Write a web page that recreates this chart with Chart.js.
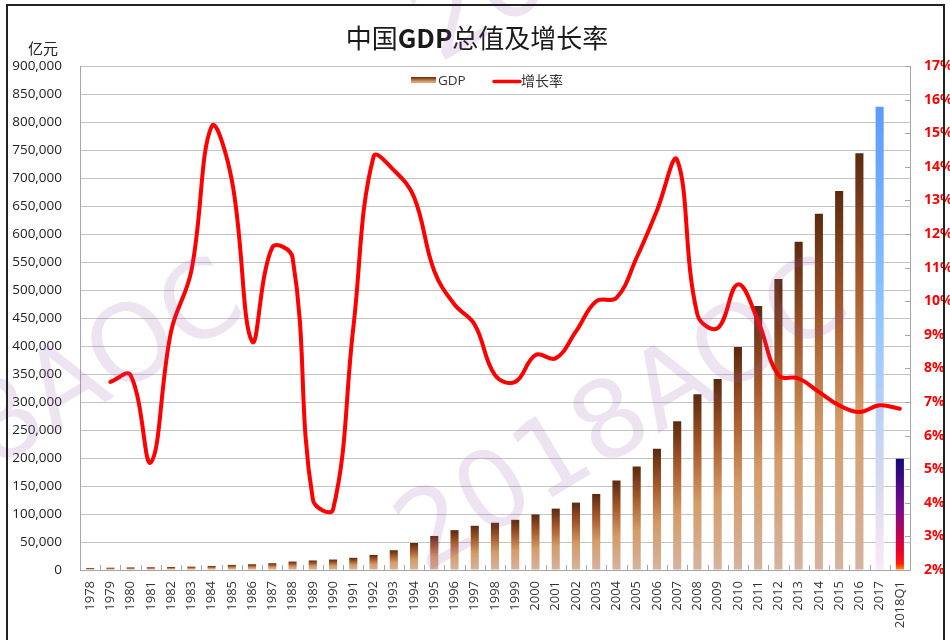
<!DOCTYPE html>
<html><head><meta charset="utf-8">
<script src="https://cdn.jsdelivr.net/npm/chart.js@4.4.1/dist/chart.umd.min.js"></script>
<style>html,body{margin:0;padding:0;background:#fff;overflow:hidden}#wrap{position:absolute;left:0;top:0;width:950px;height:640px}</style>
</head><body><div id="wrap"><canvas id="c" width="950" height="640"></canvas></div>
<script>
const categories = ['1978','1979','1980','1981','1982','1983','1984','1985','1986','1987','1988','1989','1990','1991','1992','1993','1994','1995','1996','1997','1998','1999','2000','2001','2002','2003','2004','2005','2006','2007','2008','2009','2010','2011','2012','2013','2014','2015','2016','2017','2018Q1'];
const gdpValues = [3645,4063,4546,4892,5323,5963,7208,9016,10275,12059,15043,16992,18668,21781,26923,35334,48198,60794,71177,78973,84402,89677,99215,109655,120333,135823,159878,184937,216314,265810,314045,340903,398000,471600,519500,586000,636000,676700,744127,827122,198783];
const growthRates = [null,7.6,7.8,5.2,9.1,10.9,15.2,13.6,8.8,11.6,11.3,4.1,3.8,9.2,14.3,13.9,13.1,10.9,9.9,9.3,7.8,7.6,8.4,8.3,9.1,10.0,10.1,11.3,12.7,14.2,9.6,9.2,10.5,9.4,7.8,7.7,7.3,6.9,6.7,6.9,6.8];
const gdpTicks = {min:0, max:900000, step:50000};
const rateTicks = {min:2, max:17, step:1};
const titleParts = [['中国',false],['GDP',true],['总值及增长率',false]];
const unitLabel = '亿元';
const seriesNames = ['GDP','增长率'];
const watermarkText = '2018AOC';

const BROWN = [[0,'#5a2a10'],[0.3,'#a5582b'],[0.62,'#d49c68'],[1,'#d5b3a0']];
const BLUE = [[0,'#5b9bff'],[0.45,'#8ec6ff'],[0.8,'#d6d9f0'],[1,'#fbe9f6']];
const PURPLE = [[0,'#160a78'],[0.45,'#780a8e'],[0.82,'#e8002e'],[0.94,'#ff1a10'],[1,'#ff9000']];
function gradStops(label){ return label==='2017'?BLUE:(label==='2018Q1'?PURPLE:BROWN); }
function barFill(c){
  const chart=c.chart, area=chart.chartArea;
  if(!area || c.type!=='data' || !chart.scales.y) return '#b06a3a';
  const y=chart.scales.y;
  const top=y.getPixelForValue(c.raw), bot=y.getPixelForValue(0);
  const g=chart.ctx.createLinearGradient(0,top,0,bot);
  gradStops(categories[c.dataIndex]).forEach(s=>g.addColorStop(s[0],s[1]));
  return g;
}
const CJK='"Noto Sans CJK SC"';
const decor = {
  id:'decor',
  beforeDraw(chart){const ctx=chart.ctx;ctx.save();ctx.fillStyle='#fff';ctx.fillRect(0,0,chart.width,chart.height);ctx.restore();},
  afterDraw(chart){
    const ctx=chart.ctx, a=chart.chartArea;
    ctx.save();
    ctx.strokeStyle='#a6a6a6';ctx.lineWidth=1;
    const n=categories.length, w=(a.right-a.left)/n;
    for(let i=0;i<=n;i++){const x=Math.round(a.left+i*w)+0.5;ctx.beginPath();ctx.moveTo(x,a.bottom);ctx.lineTo(x,a.bottom-5);ctx.stroke();}
    const y1=chart.scales.y1;
    for(let v=rateTicks.min;v<=rateTicks.max;v+=rateTicks.step){const y=Math.round(y1.getPixelForValue(v))+0.5;ctx.beginPath();ctx.moveTo(a.right-5,y);ctx.lineTo(a.right,y);ctx.stroke();}
    ctx.fillStyle='#1a1a1a';ctx.textBaseline='middle';
    let total=0;
    titleParts.forEach(p=>{ctx.font=(p[1]?'bold ':'')+'26px '+CJK;total+=ctx.measureText(p[0]).width;});
    let x=477-total/2;
    titleParts.forEach(p=>{ctx.font=(p[1]?'bold ':'')+'26px '+CJK;ctx.textAlign='left';ctx.fillText(p[0],x,38);x+=ctx.measureText(p[0]).width;});
    ctx.font='15px '+CJK;ctx.fillStyle='#222';ctx.fillText(unitLabel,28,48);
    const lg=ctx.createLinearGradient(0,77,0,84);BROWN.forEach(s=>lg.addColorStop(s[0],s[1]));
    ctx.fillStyle=lg;ctx.fillRect(411,77,25,6);
    ctx.fillStyle='#333';ctx.font='13.5px "Open Sans"';ctx.fillText(seriesNames[0],438,81);
    ctx.strokeStyle='#ff0000';ctx.lineWidth=3.5;ctx.lineCap='round';ctx.beginPath();ctx.moveTo(494,81.5);ctx.lineTo(520,81.5);ctx.stroke();
    ctx.font='14px '+CJK;ctx.fillText(seriesNames[1],521,81);
    ctx.fillStyle='rgba(150,85,165,0.16)';ctx.font='107px "DejaVu Sans"';ctx.textAlign='left';ctx.textBaseline='alphabetic';
    const base=[424,574];
    [[0,0],[-605,0],[15,-510]].forEach(o=>{ctx.save();ctx.translate(base[0]+o[0],base[1]+o[1]);ctx.rotate(-31*Math.PI/180);ctx.fillText(watermarkText,0,0);ctx.restore();});
    ctx.strokeStyle='#222';ctx.lineWidth=2;ctx.lineCap='butt';
    ctx.beginPath();ctx.moveTo(7,645);ctx.lineTo(7,5);ctx.lineTo(944,5);ctx.lineTo(944,645);ctx.stroke();
    ctx.restore();
  }
};
new Chart(document.getElementById('c'),{
  data:{labels:categories,datasets:[
    {type:'line',label:seriesNames[1],data:growthRates,yAxisID:'y1',borderColor:'#ff0000',borderWidth:4,pointRadius:0,tension:0.4,order:0,fill:false,borderCapStyle:'round'},
    {type:'bar',label:seriesNames[0],data:gdpValues,yAxisID:'y',backgroundColor:barFill,barPercentage:0.4,categoryPercentage:1,order:1}
  ]},
  options:{responsive:false,animation:false,devicePixelRatio:1,
    layout:{padding:{top:66,left:0,right:0,bottom:0}},
    plugins:{legend:{display:false},tooltip:{enabled:false},title:{display:false}},
    scales:{
      x:{grid:{display:false,drawTicks:false},border:{display:true,color:'#a6a6a6'},
         ticks:{maxRotation:90,minRotation:90,autoSkip:false,padding:11,color:'#333',font:{family:'"Open Sans"',size:13}},
         afterFit(s){s.height=70;}},
      y:{position:'left',min:gdpTicks.min,max:gdpTicks.max,
         grid:{color:'#c4c4c4',drawTicks:false},border:{display:true,color:'#a6a6a6'},
         ticks:{stepSize:gdpTicks.step,padding:18,color:'#222',font:{family:'"Open Sans"',size:13.5},callback:v=>v.toLocaleString('en-US')},
         afterFit(s){s.width=80;}},
      y1:{position:'right',min:rateTicks.min,max:rateTicks.max,
         grid:{display:false,drawOnChartArea:false,drawTicks:false},border:{display:true,color:'#a6a6a6'},
         ticks:{stepSize:rateTicks.step,padding:14,color:'#ff0000',font:{family:'"Open Sans"',size:14,weight:'bold'},callback:v=>v+'%'},
         afterFit(s){s.width=40;}}
    }
  },
  plugins:[decor]
});
</script></body></html>
